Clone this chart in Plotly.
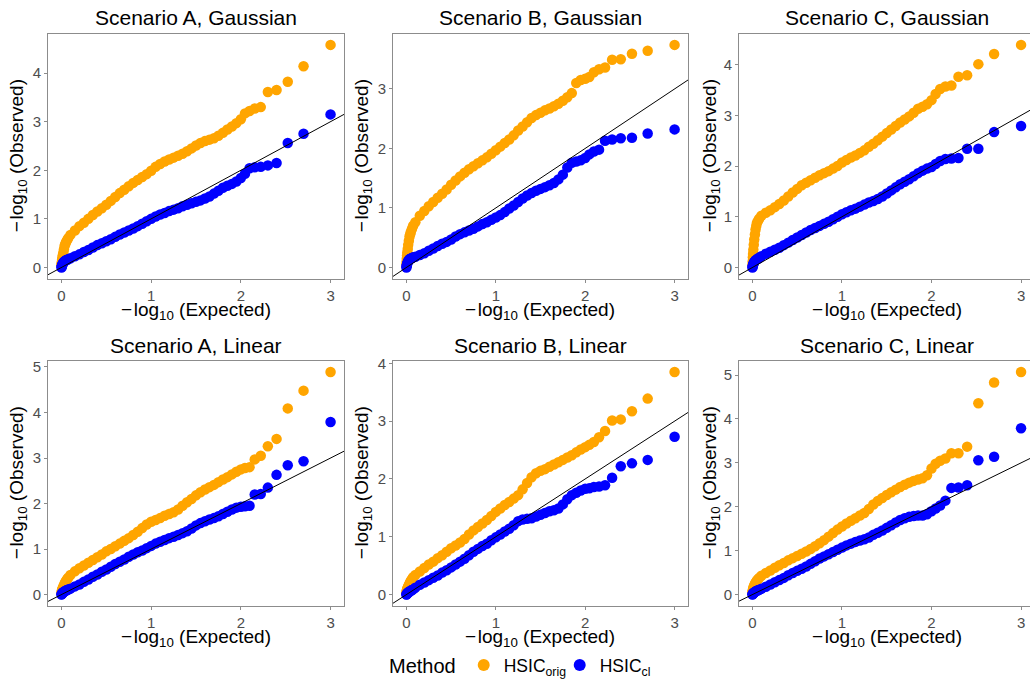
import plotly.graph_objects as go

# Expected -log10 p positions (x)
EXPECTED = [0.0, 0.0025, 0.005, 0.0075, 0.01, 0.015, 0.02, 0.0275, 0.035, 0.0425, 0.05, 0.0625, 0.075,
            0.1, 0.15, 0.2, 0.25, 0.3, 0.35, 0.4, 0.45, 0.5, 0.55, 0.6, 0.65, 0.7, 0.75, 0.8, 0.85, 0.9, 0.95,
            1.0, 1.05, 1.1, 1.15, 1.2, 1.25, 1.3, 1.35, 1.4, 1.45, 1.5, 1.55, 1.6, 1.65, 1.7, 1.75, 1.8, 1.85, 1.9, 1.95, 2.0,
            2.046, 2.097, 2.155, 2.222, 2.301, 2.398, 2.523, 2.699, 3.0]

A_GAUSS_ORIG = [0.05, 0.08, 0.12, 0.16, 0.2, 0.25, 0.3, 0.37, 0.44, 0.48, 0.52, 0.56, 0.6,
                0.67, 0.76, 0.85, 0.92, 1.0, 1.08, 1.15, 1.22, 1.29, 1.37, 1.45, 1.53, 1.6, 1.67, 1.74, 1.8, 1.86, 1.92,
                1.99, 2.07, 2.13, 2.18, 2.22, 2.26, 2.3, 2.34, 2.39, 2.45, 2.51, 2.56, 2.6, 2.63, 2.66, 2.71, 2.77, 2.84, 2.9, 2.97, 3.05,
                3.17, 3.22, 3.27, 3.3, 3.61, 3.65, 3.82, 4.14, 4.58]
A_GAUSS_CL = [0.0, 0.015, 0.03, 0.045, 0.06, 0.08, 0.1, 0.115, 0.13, 0.14, 0.15, 0.16, 0.17,
              0.19, 0.23, 0.27, 0.32, 0.36, 0.41, 0.46, 0.5, 0.54, 0.58, 0.63, 0.68, 0.72, 0.76, 0.8, 0.85, 0.9, 0.95,
              1.0, 1.05, 1.09, 1.12, 1.16, 1.19, 1.22, 1.26, 1.29, 1.32, 1.35, 1.38, 1.42, 1.46, 1.52, 1.58, 1.64, 1.68, 1.72, 1.77, 1.84,
              1.93, 2.04, 2.06, 2.07, 2.1, 2.15, 2.56, 2.75, 3.15]

B_GAUSS_ORIG = [0.05, 0.1, 0.15, 0.2, 0.25, 0.31, 0.38, 0.45, 0.52, 0.56, 0.6, 0.65, 0.7,
                0.76, 0.87, 0.95, 1.03, 1.1, 1.17, 1.24, 1.31, 1.39, 1.46, 1.53, 1.59, 1.65, 1.7, 1.75, 1.8, 1.85, 1.91,
                1.97, 2.03, 2.09, 2.15, 2.22, 2.3, 2.37, 2.44, 2.51, 2.56, 2.6, 2.64, 2.67, 2.71, 2.75, 2.8, 2.86, 2.93, 3.1, 3.15, 3.17,
                3.2, 3.28, 3.33, 3.36, 3.49, 3.5, 3.59, 3.64, 3.74]
B_GAUSS_CL = [0.0, 0.02, 0.04, 0.055, 0.07, 0.09, 0.11, 0.125, 0.14, 0.145, 0.15, 0.16, 0.17,
              0.18, 0.21, 0.24, 0.28, 0.32, 0.36, 0.4, 0.43, 0.47, 0.52, 0.56, 0.59, 0.62, 0.65, 0.69, 0.73, 0.76, 0.8,
              0.84, 0.88, 0.93, 0.99, 1.04, 1.1, 1.16, 1.21, 1.25, 1.29, 1.32, 1.35, 1.38, 1.42, 1.48, 1.56, 1.68, 1.76, 1.78, 1.8, 1.84,
              1.9, 1.95, 1.98, 2.13, 2.15, 2.17, 2.18, 2.25, 2.32]

C_GAUSS_ORIG = [0.05, 0.12, 0.2, 0.27, 0.35, 0.45, 0.55, 0.65, 0.75, 0.82, 0.88, 0.92, 0.96,
                1.02, 1.08, 1.13, 1.19, 1.25, 1.32, 1.4, 1.48, 1.55, 1.62, 1.67, 1.72, 1.77, 1.82, 1.86, 1.9, 1.95, 2.0,
                2.07, 2.12, 2.17, 2.21, 2.26, 2.31, 2.38, 2.44, 2.51, 2.58, 2.65, 2.72, 2.79, 2.86, 2.92, 2.98, 3.05, 3.13, 3.17, 3.22, 3.3,
                3.42, 3.52, 3.57, 3.59, 3.76, 3.79, 4.01, 4.21, 4.39]
C_GAUSS_CL = [0.0, 0.02, 0.04, 0.055, 0.07, 0.09, 0.11, 0.125, 0.14, 0.15, 0.16, 0.175, 0.19,
              0.22, 0.27, 0.31, 0.35, 0.39, 0.44, 0.49, 0.54, 0.59, 0.64, 0.69, 0.74, 0.78, 0.82, 0.86, 0.9, 0.95, 1.0,
              1.05, 1.09, 1.13, 1.16, 1.2, 1.24, 1.28, 1.31, 1.35, 1.4, 1.46, 1.52, 1.58, 1.64, 1.69, 1.74, 1.8, 1.86, 1.91, 1.95, 1.98,
              2.04, 2.1, 2.14, 2.15, 2.16, 2.34, 2.34, 2.67, 2.79]

A_LIN_ORIG = [0.03, 0.055, 0.08, 0.1, 0.12, 0.145, 0.17, 0.205, 0.24, 0.27, 0.3, 0.335, 0.37,
              0.43, 0.51, 0.58, 0.64, 0.7, 0.76, 0.82, 0.88, 0.95, 1.0, 1.06, 1.12, 1.18, 1.24, 1.31, 1.38, 1.46, 1.54,
              1.6, 1.64, 1.68, 1.73, 1.77, 1.81, 1.87, 1.95, 2.03, 2.1, 2.18, 2.25, 2.31, 2.36, 2.41, 2.47, 2.53, 2.58, 2.64, 2.7, 2.75,
              2.78, 2.8, 2.97, 3.05, 3.26, 3.42, 4.09, 4.48, 4.89]
A_LIN_CL = [0.0, 0.01, 0.02, 0.025, 0.03, 0.04, 0.05, 0.06, 0.07, 0.08, 0.09, 0.1, 0.11,
            0.13, 0.18, 0.22, 0.28, 0.33, 0.39, 0.44, 0.5, 0.55, 0.61, 0.67, 0.72, 0.77, 0.83, 0.88, 0.93, 0.97, 1.02,
            1.07, 1.12, 1.16, 1.2, 1.24, 1.27, 1.31, 1.35, 1.39, 1.45, 1.52, 1.57, 1.61, 1.65, 1.68, 1.72, 1.77, 1.82, 1.87, 1.91, 1.93,
            1.94, 1.95, 2.2, 2.21, 2.35, 2.63, 2.84, 2.93, 3.79]

B_LIN_ORIG = [0.03, 0.05, 0.07, 0.085, 0.1, 0.12, 0.14, 0.165, 0.19, 0.215, 0.24, 0.27, 0.3,
              0.34, 0.4, 0.46, 0.52, 0.57, 0.63, 0.68, 0.74, 0.8, 0.85, 0.9, 0.96, 1.04, 1.11, 1.17, 1.23, 1.29, 1.36,
              1.43, 1.49, 1.55, 1.6, 1.66, 1.72, 1.82, 1.93, 2.03, 2.1, 2.14, 2.17, 2.21, 2.25, 2.29, 2.33, 2.37, 2.41, 2.46, 2.51, 2.55,
              2.59, 2.64, 2.72, 2.83, 3.01, 3.03, 3.17, 3.39, 3.85]
B_LIN_CL = [0.0, 0.005, 0.01, 0.015, 0.02, 0.03, 0.04, 0.045, 0.05, 0.06, 0.07, 0.08, 0.09,
            0.12, 0.17, 0.21, 0.25, 0.29, 0.33, 0.38, 0.42, 0.47, 0.52, 0.57, 0.62, 0.68, 0.74, 0.79, 0.84, 0.88, 0.94,
            0.99, 1.04, 1.09, 1.14, 1.2, 1.27, 1.3, 1.31, 1.32, 1.35, 1.38, 1.41, 1.44, 1.46, 1.49, 1.56, 1.65, 1.72, 1.76, 1.8, 1.83,
            1.84, 1.86, 1.87, 1.89, 2.02, 2.22, 2.27, 2.33, 2.73]

C_LIN_ORIG = [0.05, 0.075, 0.1, 0.125, 0.15, 0.18, 0.21, 0.24, 0.27, 0.295, 0.32, 0.35, 0.38,
              0.43, 0.49, 0.55, 0.61, 0.67, 0.72, 0.78, 0.83, 0.88, 0.93, 0.98, 1.04, 1.1, 1.17, 1.24, 1.32, 1.4, 1.48,
              1.55, 1.62, 1.68, 1.74, 1.8, 1.86, 1.95, 2.05, 2.13, 2.2, 2.27, 2.33, 2.39, 2.45, 2.5, 2.55, 2.59, 2.62, 2.65, 2.72, 2.87,
              2.98, 3.05, 3.1, 3.22, 3.22, 3.37, 4.36, 4.83, 5.07]
C_LIN_CL = [0.0, 0.01, 0.02, 0.025, 0.03, 0.04, 0.05, 0.06, 0.07, 0.08, 0.09, 0.1, 0.11,
            0.13, 0.18, 0.23, 0.28, 0.33, 0.38, 0.44, 0.49, 0.54, 0.59, 0.64, 0.7, 0.76, 0.82, 0.87, 0.92, 0.97, 1.02,
            1.07, 1.12, 1.16, 1.2, 1.23, 1.26, 1.3, 1.36, 1.41, 1.46, 1.52, 1.58, 1.64, 1.7, 1.74, 1.77, 1.79, 1.8, 1.8, 1.83, 1.9,
            1.96, 2.03, 2.14, 2.43, 2.44, 2.49, 3.06, 3.14, 3.79]

TITLES = ["Scenario A, Gaussian", "Scenario B, Gaussian", "Scenario C, Gaussian",
          "Scenario A, Linear", "Scenario B, Linear", "Scenario C, Linear"]
METHODS = ["HSIC<sub>orig</sub>", "HSIC<sub>cl</sub>"]
COLORS = ["#FFA500", "#0000FF"]
X_TICKS = [0, 1, 2, 3]
X_TITLE = "\u2212\u200alog<sub>10</sub> (Expected)"
Y_TITLE = "\u2212\u200alog<sub>10</sub> (Observed)"

panels = [
    (A_GAUSS_ORIG, A_GAUSS_CL), (B_GAUSS_ORIG, B_GAUSS_CL), (C_GAUSS_ORIG, C_GAUSS_CL),
    (A_LIN_ORIG, A_LIN_CL), (B_LIN_ORIG, B_LIN_CL), (C_LIN_ORIG, C_LIN_CL),
]

W, H = 1030, 686
COL_PX = [(48, 344), (393, 688), (739, 1030)]
ROW_PX = [(28, 275), (358, 605)]
X_RANGES = [(-0.15, 3.15), (-0.15, 3.15), (-0.15, 3.10)]
TITLE_CX = [196, 540, 887]
YTITLE_X = [18, 363, 711]
FONT = "Liberation Sans, Arial, sans-serif"
BORDER = "#8c8c8c"

fig = go.Figure()
annotations = []
layout_axes = {}

for idx, (orig, cl) in enumerate(panels):
    r, c = divmod(idx, 3)
    n = idx + 1
    xa = "x" if n == 1 else f"x{n}"
    ya = "y" if n == 1 else f"y{n}"
    for vals, name, color in zip((orig, cl), METHODS, COLORS):
        fig.add_trace(go.Scatter(
            x=EXPECTED, y=vals, mode="markers", name=name, legendgroup=name,
            showlegend=(idx == 0),
            marker=dict(size=10.5, color=color, line=dict(width=0)),
            xaxis=xa, yaxis=ya, hoverinfo="skip"))
    ymax = max(max(orig), max(cl))
    ylo, yhi = -0.05 * ymax, 1.05 * ymax
    xr = X_RANGES[c]
    lo, hi = min(xr[0], ylo), max(xr[1], yhi)
    fig.add_trace(go.Scatter(
        x=[lo, hi], y=[lo, hi], mode="lines", line=dict(color="black", width=1),
        showlegend=False, xaxis=xa, yaxis=ya, hoverinfo="skip"))

    x0, x1 = COL_PX[c]
    y0, y1 = ROW_PX[r]
    xkey = "xaxis" if n == 1 else f"xaxis{n}"
    ykey = "yaxis" if n == 1 else f"yaxis{n}"
    common = dict(showgrid=False, zeroline=False, showline=True, linecolor=BORDER, linewidth=1,
                  ticks="outside", ticklen=3, tickcolor=BORDER, tickwidth=1,
                  tickfont=dict(family=FONT, size=15, color="#4d4d4d"))
    layout_axes[xkey] = dict(domain=[x0 / W, x1 / W], range=list(xr), anchor=ya,
                             tickvals=X_TICKS, mirror=True, **common)
    layout_axes[ykey] = dict(domain=[1 - y1 / H, 1 - y0 / H], range=[ylo, yhi], anchor=xa,
                             tick0=0, dtick=1, mirror=(c < 2), **common)

    cx = TITLE_CX[c] / W
    annotations.append(dict(text=TITLES[idx], x=cx, y=1 - (y0 - 16) / H, xref="paper", yref="paper",
                            xanchor="center", yanchor="middle", showarrow=False,
                            font=dict(family=FONT, size=21, color="black")))
    annotations.append(dict(text=X_TITLE, x=cx, y=1 - (y1 + 33) / H,
                            xref="paper", yref="paper", xanchor="center", yanchor="middle",
                            showarrow=False, font=dict(family=FONT, size=19, color="black")))
    annotations.append(dict(text=Y_TITLE, x=YTITLE_X[c] / W,
                            y=1 - (y0 + y1) / 2 / H, xref="paper", yref="paper",
                            xanchor="center", yanchor="middle", textangle=-90, showarrow=False,
                            font=dict(family=FONT, size=19, color="black")))

fig.update_layout(
    width=W, height=H, margin=dict(l=0, r=0, t=0, b=0),
    paper_bgcolor="white", plot_bgcolor="white",
    annotations=annotations,
    showlegend=True,
    legend=dict(orientation="h", x=387 / W, xanchor="left", y=1 - 665 / H, yanchor="middle",
                title=dict(text="Method", font=dict(family=FONT, size=20, color="black")),
                font=dict(family=FONT, size=17.5, color="black"), itemsizing="constant",
                entrywidth=51, bgcolor="rgba(0,0,0,0)"),
    **layout_axes,
)

fig.write_html("out.html", config={"displayModeBar": False},
               post_script="document.body.style.margin='0px';document.body.style.overflow='hidden';")
